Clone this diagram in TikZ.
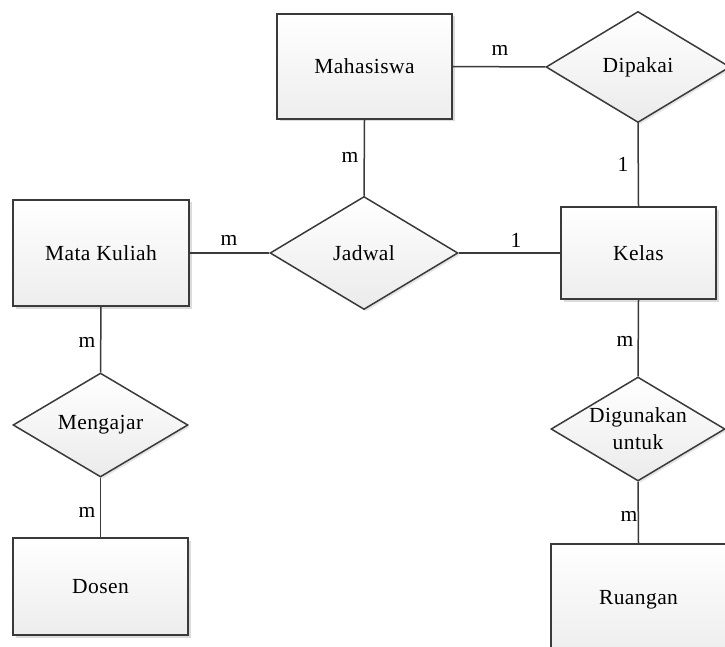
\documentclass[tikz,border=0pt]{standalone}
\usepackage{fontspec}
\setmainfont[LetterSpace=2]{Liberation Serif}
\usetikzlibrary{shapes.geometric,shadows}
\definecolor{linegray}{HTML}{3A3A3A}
\begin{document}
\begin{tikzpicture}[x=1pt,y=-1pt,
  every node/.style={font=\fontsize{21.5}{27}\selectfont, text=black},
  ent/.style={rectangle, draw=linegray, line width=1.5pt, top color=white, bottom color=black!7,
    general shadow={fill=black!14, shadow xshift=2.5pt, shadow yshift=-2.5pt}, inner sep=0pt},
  rel/.style={diamond, draw=linegray, line width=1.5pt, top color=white, bottom color=black!8,
    general shadow={fill=black!10, shadow xshift=2pt, shadow yshift=-2pt}, inner sep=0pt},
  conn/.style={draw=linegray, line width=1.5pt},
  card/.style={inner sep=0pt}
]
\useasboundingbox (0,0) rectangle (725,647);

% entities
\node[ent, minimum width=175pt, minimum height=105pt] (mhs) at (364.5,66.5) {Mahasiswa};
\node[ent, minimum width=176pt, minimum height=106pt] (mk) at (101,253) {Mata Kuliah};
\node[ent, minimum width=155pt, minimum height=92pt] (kelas) at (638.5,253) {Kelas};
\node[ent, minimum width=175pt, minimum height=97pt] (dosen) at (100.5,586.5) {Dosen};
\node[ent, minimum width=175pt, minimum height=112pt] (ruang) at (638.5,600) {Ruangan};

% relationships
\node[rel, minimum width=184pt, minimum height=111pt] (dipakai) at (638,67) {};
\node (dipakaiT) at (dipakai) {Dipakai};
\node[rel, minimum width=188pt, minimum height=113pt] (jadwal) at (364,253) {};
\node (jadwalT) at (jadwal) {Jadwal};
\node[rel, minimum width=175pt, minimum height=104pt] (ngajar) at (100.5,425) {};
\node (ngajarT) at (ngajar) {Mengajar};
\node[rel, minimum width=174pt, minimum height=104pt] (guna) at (638,429) {};
\node[align=center] (gunaT) at (guna) {Digunakan\\untuk};

% connectors
\draw[conn] (mhs.east) -- (dipakai.west);
\draw[conn] (mhs.south) -- (jadwal.north);
\draw[conn] (mk.east) -- (jadwal.west);
\draw[conn] (jadwal.east) -- (kelas.west);
\draw[conn] (dipakai.south) -- (kelas.north);
\draw[conn] (kelas.south) -- (guna.north);
\draw[conn] (guna.south) -- (ruang.north);
\draw[conn] (mk.south) -- (ngajar.north);
\draw[conn] (ngajar.south) -- (dosen.north);

% cardinalities
\node[card] (c1) at (500,50) {m};
\node[card] (c2) at (350,157) {m};
\node[card] (c3) at (229,240) {m};
\node[card] (c4) at (516,240) {1};
\node[card] (c5) at (623,164) {1};
\node[card] (c6) at (625,341) {m};
\node[card] (c7) at (87,342) {m};
\node[card] (c8) at (87,512) {m};
\node[card] (c9) at (629,516) {m};
\end{tikzpicture}
\end{document}
